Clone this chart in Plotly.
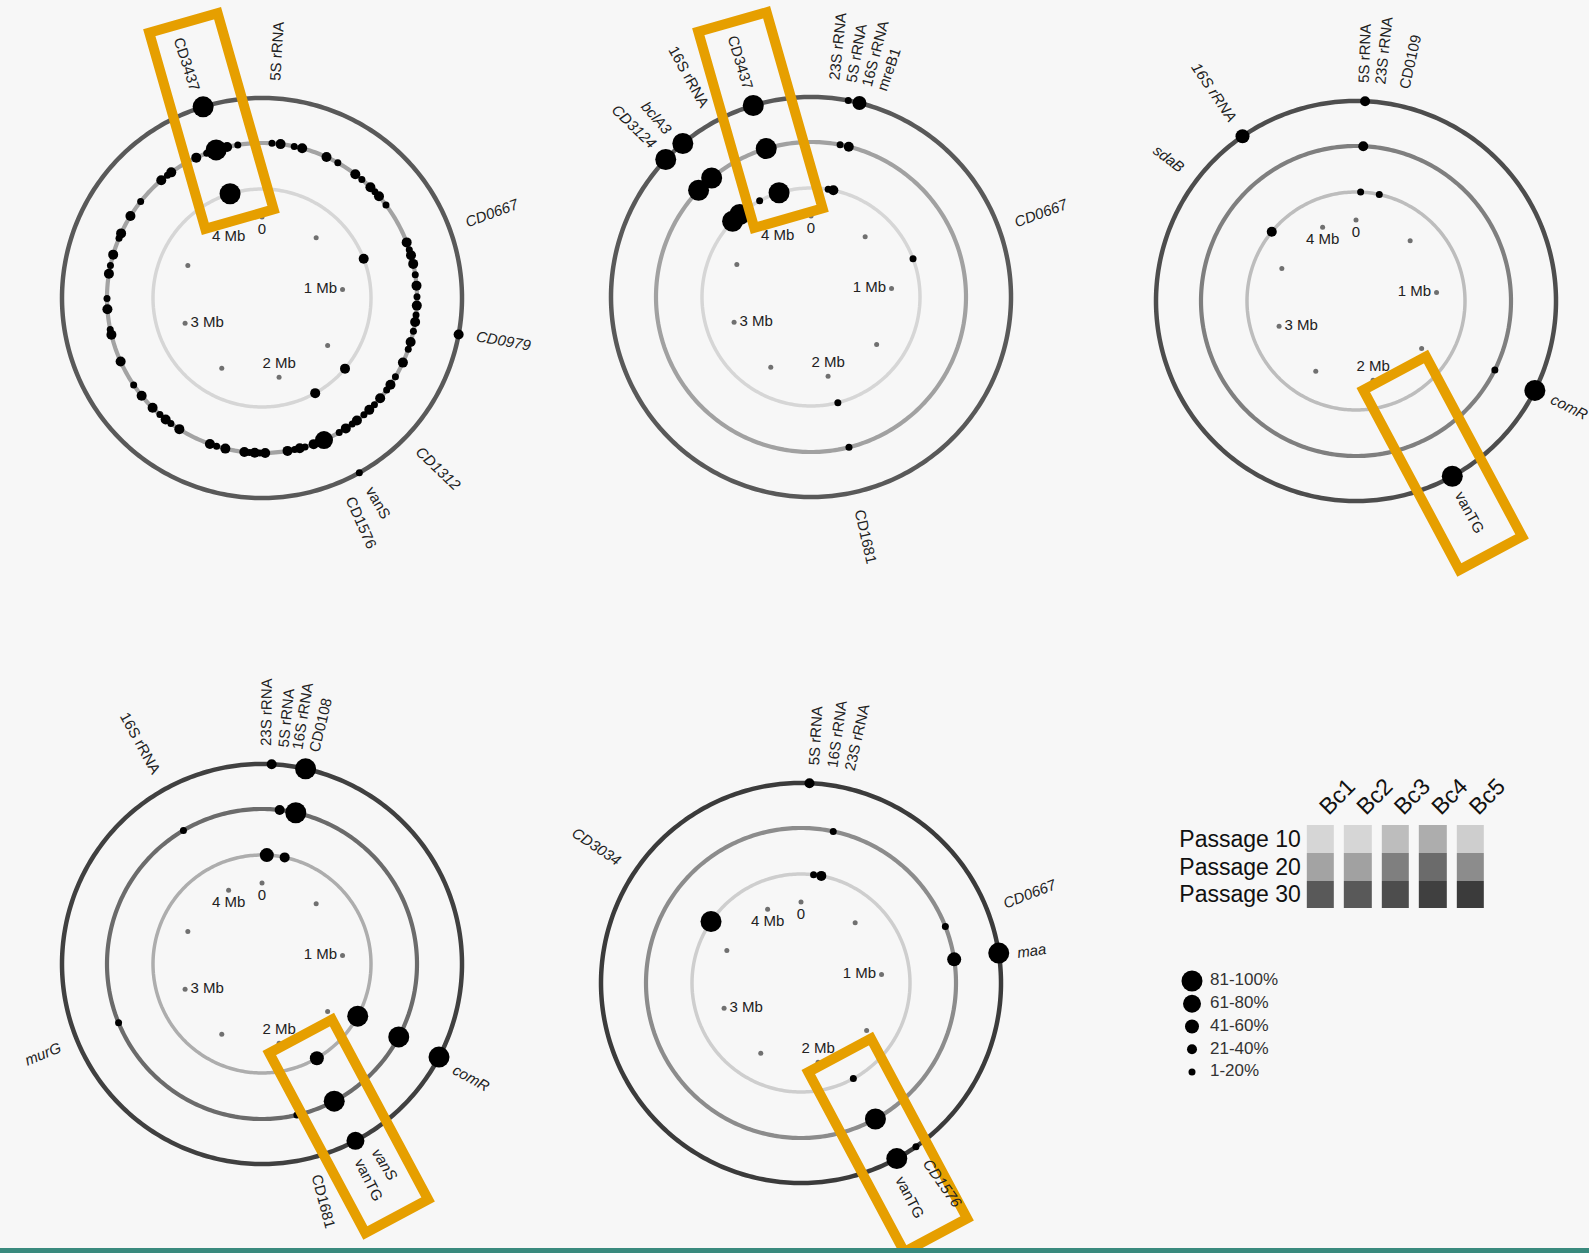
import math
import plotly.graph_objects as go

W, H = 1589, 1253
GENOME_MB = 4.29

# ---------------- data ----------------
barcodes = ["Bc1", "Bc2", "Bc3", "Bc4", "Bc5"]
passages = ["Passage 10", "Passage 20", "Passage 30"]
# grey level (0-255) of each passage ring for each barcode (legend tiles)
passage_grey = [
    [214, 214, 189, 173, 206],
    [163, 161, 127, 107, 140],
    [89, 89, 77, 64, 59],
]

freq_bins = ["81-100%", "61-80%", "41-60%", "21-40%", "1-20%"]
freq_bin_ids = [5, 4, 3, 2, 1]

tick_pos = [0, 0.5, 1, 1.5, 2, 2.5, 3, 3.5, 4]
tick_label_pos = [0, 1, 2, 3, 4]
tick_labels = ["0", "1 Mb", "2 Mb", "3 Mb", "4 Mb"]

# --- Bc1 ---
bc1_p10_pos = [0.041, 0.821, 1.554, 1.797, 4.087]
bc1_p10_bin = [1, 2, 2, 2, 5]
bc1_p20_pos = [0.044, 0.082, 0.143, 0.179, 0.293, 0.349, 0.441, 0.478, 0.529, 0.557,
               0.584, 0.633, 0.822, 0.856, 0.882, 0.921, 0.970, 1.018, 1.067, 1.106,
               1.148, 1.179, 1.220, 1.269, 1.303, 1.366, 1.437, 1.478, 1.507, 1.553,
               1.591, 1.623, 1.655, 1.695, 1.721, 1.755, 1.789, 1.864, 1.913, 1.953,
               1.977, 2.000, 2.032, 2.131, 2.155, 2.177, 2.200, 2.223, 2.308, 2.348,
               2.379, 2.529, 2.574, 2.603, 2.636, 2.680, 2.752, 2.811, 2.929, 3.054,
               3.078, 3.168, 3.215, 3.325, 3.362, 3.411, 3.488, 3.511, 3.598, 3.676,
               3.807, 3.842, 3.863, 3.947, 3.991, 4.041, 4.085, 4.135, 4.183]
bc1_p20_bin = [1, 2, 1, 2, 2, 1, 2, 1, 2, 1,
               2, 1, 2, 1, 2, 2, 1, 2, 1, 2,
               1, 2, 1, 2, 1, 2, 1, 2, 1, 2,
               1, 2, 1, 2, 1, 2, 1, 4, 2, 1,
               2, 1, 2, 2, 1, 2, 1, 2, 2, 1,
               2, 2, 1, 2, 1, 2, 2, 1, 2, 2,
               1, 2, 1, 2, 1, 2, 1, 2, 2, 1,
               2, 1, 2, 1, 2, 1, 5, 2, 1]
bc1_p30_pos = [1.198, 1.798, 4.086]
bc1_p30_bin = [2, 1, 5]
bc1_gene = ["5S rRNA", "CD3437", "CD0667", "CD0979", "CD1312", "vanS", "CD1576"]
bc1_gene_pos = [0.041, 4.080, 0.830, 1.190, 1.595, 1.790, 1.860]

# --- Bc2 ---
bc2_p10_pos = [0.108, 0.141, 0.827, 1.975, 3.742, 3.804, 3.955, 4.087]
bc2_p10_bin = [1, 2, 1, 1, 5, 5, 1, 5]
bc2_p20_pos = [0.129, 0.168, 1.976, 3.736, 3.815, 4.090]
bc2_p20_bin = [1, 2, 1, 5, 5, 5]
bc2_p30_pos = [0.128, 0.167, 3.735, 3.815, 4.090]
bc2_p30_bin = [1, 3, 5, 5, 5]
bc2_gene = ["16S rRNA", "bclA3", "CD3124", "CD3437", "23S rRNA", "5S rRNA",
            "16S rRNA", "mreB1", "CD0667", "CD1681"]
bc2_gene_pos = [3.944, 3.805, 3.743, 4.090, 0.072, 0.125, 0.175, 0.225, 0.832, 1.990]

# --- Bc3 ---
bc3_p10_pos = [0.029, 0.147, 3.687]
bc3_p10_bin = [1, 1, 2]
bc3_p20_pos = [0.032, 1.387]
bc3_p20_bin = [2, 1]
bc3_p30_pos = [0.031, 1.389, 1.802, 3.878]
bc3_p30_bin = [2, 5, 5, 3]
bc3_gene = ["5S rRNA", "23S rRNA", "CD0109", "16S rRNA", "sdaB", "comR", "vanTG"]
bc3_gene_pos = [0.023, 0.075, 0.151, 3.882, 3.663, 1.386, 1.808]

# --- Bc4 ---
bc4_p10_pos = [0.030, 0.143, 1.413, 1.785]
bc4_p10_bin = [3, 2, 5, 3]
bc4_p20_pos = [0.078, 0.150, 1.407, 1.814, 1.990, 2.952, 3.927]
bc4_p20_bin = [2, 5, 5, 5, 1, 1, 1]
bc4_p30_pos = [0.033, 0.150, 1.403, 1.813]
bc4_p30_bin = [2, 5, 5, 4]
bc4_gene = ["16S rRNA", "23S rRNA", "5S rRNA", "16S rRNA", "CD0108", "murG",
            "comR", "vanS", "vanTG", "CD1681"]
bc4_gene_pos = [3.948, 0.010, 0.066, 0.110, 0.163, 2.953, 1.411, 1.768, 1.830, 1.971]

# --- Bc5 ---
bc5_p10_pos = [0.079, 0.128, 1.803, 3.627]
bc5_p10_bin = [1, 2, 1, 5]
bc5_p20_pos = [0.143, 0.818, 0.968, 1.803]
bc5_p20_bin = [1, 1, 3, 5]
bc5_p30_pos = [0.029, 0.970, 1.727, 1.804]
bc5_p30_bin = [2, 5, 1, 5]
bc5_gene = ["5S rRNA", "16S rRNA", "23S rRNA", "CD3034", "CD0667", "maa", "CD1576", "vanTG"]
bc5_gene_pos = [0.040, 0.098, 0.152, 3.620, 0.819, 0.976, 1.724, 1.822]

# highlighted locus per barcode (Mb)
highlight_pos = [4.10, 4.10, 1.81, 1.81, 1.81]

panels = [
    (bc1_p10_pos, bc1_p10_bin, bc1_p20_pos, bc1_p20_bin, bc1_p30_pos, bc1_p30_bin, bc1_gene, bc1_gene_pos),
    (bc2_p10_pos, bc2_p10_bin, bc2_p20_pos, bc2_p20_bin, bc2_p30_pos, bc2_p30_bin, bc2_gene, bc2_gene_pos),
    (bc3_p10_pos, bc3_p10_bin, bc3_p20_pos, bc3_p20_bin, bc3_p30_pos, bc3_p30_bin, bc3_gene, bc3_gene_pos),
    (bc4_p10_pos, bc4_p10_bin, bc4_p20_pos, bc4_p20_bin, bc4_p30_pos, bc4_p30_bin, bc4_gene, bc4_gene_pos),
    (bc5_p10_pos, bc5_p10_bin, bc5_p20_pos, bc5_p20_bin, bc5_p30_pos, bc5_p30_bin, bc5_gene, bc5_gene_pos),
]

# ---------------- layout constants ----------------
CENTERS = [(262, 298), (811, 297), (1356, 301), (262, 964), (801, 983)]
R_TICK, R_P10, R_P20, R_P30 = 81, 109, 155, 200
RING_W = [3.5, 4.2, 4.5]
R_LABEL = 218
R_DOM = 230
SIZE = {1: 7, 2: 10, 3: 14, 4: 18, 5: 21}
FONT = "Liberation Sans, Arial, sans-serif"
LABEL_SIZE = 15
ORANGE = "#E69F00"

EM = {'0': .556, '1': .556, '2': .556, '3': .556, '4': .556, '5': .556, '6': .556,
      '7': .556, '8': .556, '9': .556, 'A': .667, 'B': .667, 'C': .722, 'D': .722,
      'G': .778, 'N': .722, 'R': .722, 'S': .667, 'T': .611, 'M': .833,
      'a': .556, 'b': .556, 'c': .5, 'd': .556, 'e': .556, 'l': .222, 'm': .833,
      'n': .556, 'r': .333, 's': .5, 'u': .556, 'v': .5, ' ': .278}


def theta(p):
    return p / GENOME_MB * 360.0


def text_len(s, size):
    return sum(EM.get(ch, 0.56) for ch in s) * size


def grey(v):
    return f"rgb({v},{v},{v})"


fig = go.Figure()

# page-level axis (pixel units) for labels and highlight boxes
fig.add_trace(go.Scatter(x=[], y=[], xaxis="x", yaxis="y", showlegend=False, hoverinfo="skip"))

ring_theta = list(range(0, 361))
annotations = []
shapes = []

for i, pan in enumerate(panels):
    p10p, p10b, p20p, p20b, p30p, p30b, genes, gpos = pan
    sub = "polar" if i == 0 else f"polar{i + 1}"
    cx, cy = CENTERS[i]
    ring_cols = [grey(passage_grey[k][i]) for k in range(3)]

    for k, r in enumerate([R_P10, R_P20, R_P30]):
        fig.add_trace(go.Scatterpolar(
            r=[r] * len(ring_theta), theta=ring_theta, mode="lines",
            line=dict(color=ring_cols[k], width=RING_W[k]),
            subplot=sub, hoverinfo="skip", showlegend=False))

    fig.add_trace(go.Scatterpolar(
        r=[R_TICK] * len(tick_pos), theta=[theta(p) for p in tick_pos], mode="markers",
        marker=dict(size=5, color="#707070", opacity=1), subplot=sub,
        hoverinfo="skip", showlegend=False))
    fig.add_trace(go.Scatterpolar(
        r=[R_TICK] * len(tick_label_pos), theta=[theta(p) for p in tick_label_pos],
        mode="markers+text", text=tick_labels,
        marker=dict(size=7, opacity=0, color="#707070"),
        textposition=["bottom center", "middle left", "top center", "middle right", "bottom center"],
        textfont=dict(family=FONT, size=15, color="#222222"),
        subplot=sub, hoverinfo="skip", showlegend=False))

    for r, pos, bins in [(R_P10, p10p, p10b), (R_P20, p20p, p20b), (R_P30, p30p, p30b)]:
        fig.add_trace(go.Scatterpolar(
            r=[r] * len(pos), theta=[theta(p) for p in pos], mode="markers",
            marker=dict(size=[SIZE[b] for b in bins], color="black", opacity=1,
                        line=dict(width=0)),
            subplot=sub, hoverinfo="skip", showlegend=False))

    fig.update_layout(**{sub: dict(
        domain=dict(x=[(cx - R_DOM) / W, (cx + R_DOM) / W],
                    y=[1 - (cy + R_DOM) / H, 1 - (cy - R_DOM) / H]),
        bgcolor="rgba(0,0,0,0)",
        radialaxis=dict(range=[0, R_DOM], visible=False, showgrid=False),
        angularaxis=dict(rotation=90, direction="clockwise", visible=False, showgrid=False),
    )})

    # gene labels (radial text)
    for g, p in zip(genes, gpos):
        t = theta(p)
        tr = math.radians(t)
        L = text_len(g, LABEL_SIZE)
        rc = R_LABEL + L / 2
        x = cx + rc * math.sin(tr)
        y = cy - rc * math.cos(tr)
        ang = t - 90 if t < 180 else t - 270
        annotations.append(dict(
            x=x, y=y, xref="x", yref="y", text=g, showarrow=False,
            textangle=ang, xanchor="center", yanchor="middle",
            font=dict(family=FONT, size=LABEL_SIZE, color="#222222",
                      style="italic" if abs(ang) < 60 else "normal")))

    # highlight box
    t = math.radians(theta(highlight_pos[i]))
    u = (math.sin(t), -math.cos(t))
    n = (math.cos(t), math.sin(t))
    r_in, r_out, hw = 82, 286, 35.5
    pts = [(cx + r_in * u[0] + hw * n[0], cy + r_in * u[1] + hw * n[1]),
           (cx + r_out * u[0] + hw * n[0], cy + r_out * u[1] + hw * n[1]),
           (cx + r_out * u[0] - hw * n[0], cy + r_out * u[1] - hw * n[1]),
           (cx + r_in * u[0] - hw * n[0], cy + r_in * u[1] - hw * n[1])]
    path = "M " + " L ".join(f"{px:.1f},{py:.1f}" for px, py in pts) + " Z"
    shapes.append(dict(type="path", path=path, xref="x", yref="y",
                       line=dict(color=ORANGE, width=10), layer="above"))

# bottom teal rule
shapes.append(dict(type="rect", xref="x", yref="y", x0=0, x1=W, y0=1248, y1=1256,
                   fillcolor="#3a8a7e", line=dict(width=0), layer="above"))

# legend tiles: barcode x passage shades
fig.add_trace(go.Heatmap(
    x=barcodes, y=passages, z=passage_grey, zmin=0, zmax=255,
    colorscale=[[0, "rgb(0,0,0)"], [1, "rgb(255,255,255)"]],
    showscale=False, xgap=10, ygap=0, xaxis="x2", yaxis="y2", hoverinfo="skip"))

# legend of dot sizes
fig.add_trace(go.Scatter(
    x=[12] * len(freq_bins), y=freq_bins, mode="markers",
    marker=dict(size=[SIZE[b] for b in freq_bin_ids], color="black", opacity=1,
                line=dict(width=0)),
    xaxis="x3", yaxis="y3", showlegend=False, hoverinfo="skip"))
fig.add_trace(go.Scatter(
    x=[30] * len(freq_bins), y=freq_bins, mode="text", text=freq_bins,
    textposition="middle right", textfont=dict(family=FONT, size=17, color="#333333"),
    xaxis="x3", yaxis="y3", showlegend=False, hoverinfo="skip"))

fig.update_layout(
    width=W, height=H, autosize=False,
    margin=dict(l=0, r=0, t=0, b=0, pad=0, autoexpand=False),
    paper_bgcolor="#f7f7f7", plot_bgcolor="rgba(0,0,0,0)",
    showlegend=False, hovermode=False,
    xaxis=dict(domain=[0, 1], range=[0, W], visible=False, fixedrange=True),
    yaxis=dict(domain=[0, 1], range=[H, 0], visible=False, fixedrange=True),
    xaxis2=dict(domain=[1301.8 / W, 1489 / W], anchor="y2", side="top", tickangle=-45,
                showgrid=False, zeroline=False, showline=False, ticks="",
                tickmode="array", tickvals=barcodes, ticktext=barcodes,
                tickfont=dict(family=FONT, size=23, color="#111111")),
    yaxis2=dict(domain=[1 - 908.3 / H, 1 - 825 / H], anchor="x2", autorange="reversed",
                showgrid=False, zeroline=False, showline=False, ticks="",
                tickmode="array", tickvals=passages, ticktext=passages,
                tickfont=dict(family=FONT, size=23, color="#111111")),
    xaxis3=dict(domain=[1180 / W, 1300 / W], range=[0, 120], anchor="y3", visible=False),
    yaxis3=dict(domain=[1 - 1083.4 / H, 1 - 969.6 / H], anchor="x3", type="category",
                categoryorder="array", categoryarray=freq_bins, range=[4.5, -0.5],
                visible=False),
    annotations=annotations,
    shapes=shapes,
)

fig.write_html("out.html")
